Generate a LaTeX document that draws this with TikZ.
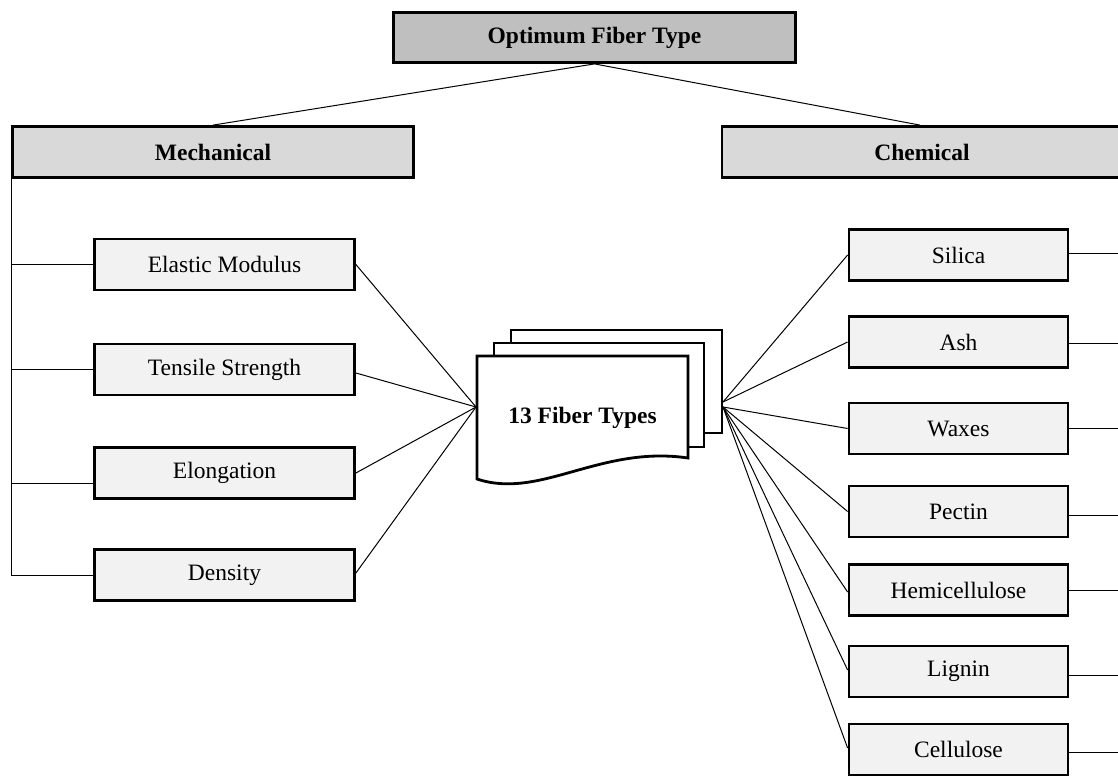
\documentclass[tikz,border=0pt]{standalone}
\usepackage{fontspec}
\setmainfont{Liberation Serif}
\definecolor{topgray}{HTML}{BFBFBF}
\definecolor{catgray}{HTML}{D9D9D9}
\definecolor{leafgray}{HTML}{F2F2F2}
\begin{document}
\begin{tikzpicture}[x=1pt,y=-1pt,
  box/.style={draw, line width=2.8pt, rectangle, inner sep=0pt, font=\fontsize{23.5}{28}\selectfont},
  leaf/.style={box, fill=leafgray, minimum width=260pt, minimum height=51pt},
  rleaf/.style={box, fill=leafgray, minimum width=219pt, minimum height=51pt},
  cat/.style={box, fill=catgray, minimum width=401pt, minimum height=51pt, font=\fontsize{23.5}{28}\selectfont\bfseries},
  topbox/.style={box, fill=topgray, minimum width=402pt, minimum height=50pt, font=\fontsize{23.5}{28}\selectfont\bfseries},
  conn/.style={draw, line width=1pt},
  docline/.style={draw, line width=2.8pt, fill=white, line join=miter}]
\useasboundingbox (0,0) rectangle (1118,776);
\clip (0,0) rectangle (1118,776);

% hierarchy boxes
\node[topbox] (top) at (594.5,37.5) {Optimum Fiber Type};
\node[cat] (mech) at (213,152) {Mechanical};
\node[cat, minimum width=400pt] (chem) at (922,152) {Chemical};

% mechanical leaves
\node[leaf] (elastic) at (224.5,264.5) {Elastic Modulus};
\node[leaf] (tensile) at (224.5,369.5) {Tensile Strength};
\node[leaf] (elong)   at (224.5,473)   {Elongation};
\node[leaf] (density) at (224.5,575)   {Density};

% chemical leaves
\node[rleaf] (silica)    at (958.5,255)   {Silica};
\node[rleaf] (ash)       at (958.5,342)   {Ash};
\node[rleaf] (waxes)     at (958.5,428.5) {Waxes};
\node[rleaf] (pectin)    at (958.5,511.5) {Pectin};
\node[rleaf] (hemi)      at (958.5,590)   {Hemicellulose};
\node[rleaf] (lignin)    at (958.5,671.5) {Lignin};
\node[rleaf] (cellulose) at (958.5,749.5) {Cellulose};

% multi-document shape
\draw[docline] (511,330) rectangle (722,433);
\draw[docline] (494,343) rectangle (704,447);
\draw[docline] (477,356) -- (688,356) -- (688,458)
   .. controls (600,445) and (540,500) .. (477,479) -- cycle;
\node[font=\fontsize{23.5}{28}\selectfont\bfseries] (docs) at (582.5,418) {13 Fiber Types};
\coordinate (L) at (476,407);
\coordinate (R1) at (723,402);
\coordinate (R2) at (723,407);
\coordinate (elongstub) at ([yshift=-10pt]elong.west);

% top connectors
\draw[conn] (top.south) -- (mech.north);
\draw[conn] (top.south) -- ([xshift=-2pt]chem.north);

% mechanical tree
\draw[conn] (mech.south west) -- (mech.south west |- density.west) -- (density.west);
\draw[conn] (mech.south west |- elastic.west) -- (elastic.west);
\draw[conn] (mech.south west |- tensile.west) -- (tensile.west);
\draw[conn] (mech.south west |- elongstub) -- (elongstub);

% mechanical to documents
\draw[conn] (elastic.east) -- (L);
\draw[conn] ([yshift=-3.5pt]tensile.east) -- (L);
\draw[conn] (elong.east) -- (L);
\draw[conn] ([yshift=2pt]density.east) -- (L);

% documents to chemical
\draw[conn] (R1) -- (silica.west);
\draw[conn] (R1) -- (ash.west);
\draw[conn] (R2) -- (waxes.west);
\draw[conn] (R2) -- (pectin.west);
\draw[conn] (R2) -- ([yshift=-2pt]hemi.west);
\draw[conn] (R2) -- ([yshift=1.5pt]lignin.west);
\draw[conn] (R2) -- ([yshift=1.5pt]cellulose.west);

% chemical stubs to the right edge
\draw[conn] ([yshift=2pt]silica.east) -- ++(60,0);
\draw[conn] ([yshift=-1pt]ash.east) -- ++(60,0);
\draw[conn] (waxes.east) -- ++(60,0);
\draw[conn] ([yshift=-3.5pt]pectin.east) -- ++(60,0);
\draw[conn] (hemi.east) -- ++(60,0);
\draw[conn] ([yshift=-3.5pt]lignin.east) -- ++(60,0);
\draw[conn] ([yshift=-2.5pt]cellulose.east) -- ++(60,0);
\end{tikzpicture}
\end{document}
